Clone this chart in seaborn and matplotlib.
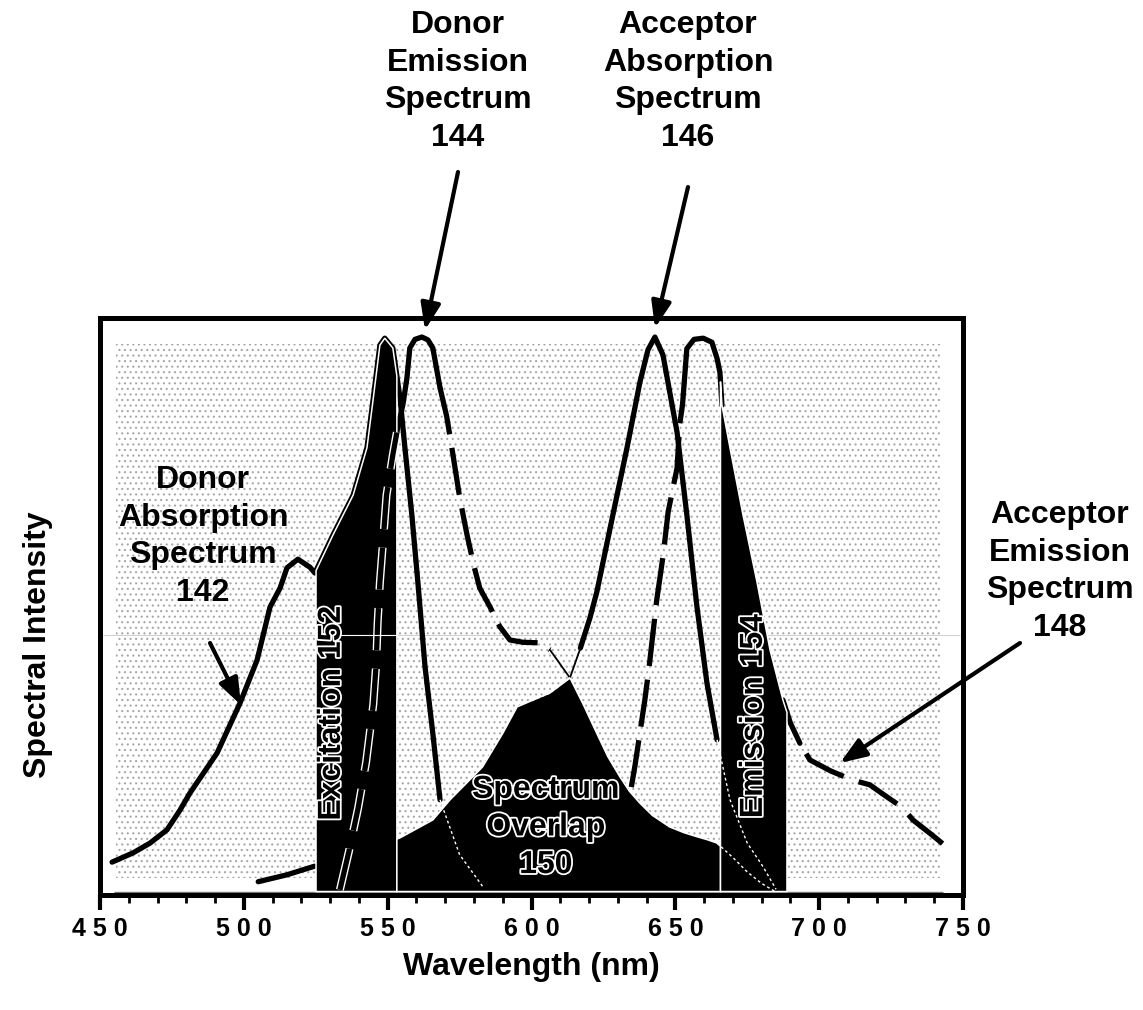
import numpy as np
import matplotlib
matplotlib.use("Agg")
import matplotlib.pyplot as plt
import matplotlib.patheffects as pe
from matplotlib.patches import Rectangle
import seaborn as sns

# ---------------- data ----------------
# Donor absorption spectrum 142 (solid)
DA_WL = [454.2, 461.5, 467.4, 473.3, 477.8, 481.3, 490.7, 498.7, 504.6, 509.1, 512.6, 515.0,
         518.8, 523.0, 524.7, 531.0, 538.0, 542.8, 545.0, 547.3, 549.0, 551.8, 554.3,
         556.0, 558.4, 560.5, 563.0, 565.7, 568.2, 575.0, 583.0]
DA_I = [5.7, 7.3, 9.0, 11.3, 14.7, 17.7, 24.6, 33.3, 40.7, 49.9, 53.2, 56.7,
        58.2, 56.8, 55.8, 62.4, 69.3, 77.5, 86.1, 95.3, 96.5, 94.8, 86.1,
        77.5, 65.9, 54.2, 39.5, 28.0, 16.5, 7.0, 1.5]

# Donor emission spectrum 144 (dashed)
DE_WL = [533.4, 536.5, 539.7, 542.5, 545.0, 546.0, 546.5, 547.3, 548.5, 549.6, 551.8,
         553.5, 555.3, 556.7, 557.7, 559.5, 561.9, 564.0, 565.7, 568.2, 570.5, 572.7,
         575.0, 577.6, 580.0, 582.0, 585.6, 589.0, 592.5, 597.0, 603.0, 606.4, 613.4,
         618.0, 622.7, 626.5, 630.7, 634.0, 637.7, 642.0, 648.0, 653.0, 657.5, 661.0,
         664.5, 670.0, 675.0, 680.0, 685.0]
DE_I = [0.9, 7.5, 15.0, 23.0, 33.0, 40.0, 47.0, 54.2, 62.0, 69.3, 76.3,
        81.0, 85.0, 89.6, 94.8, 96.3, 96.7, 96.2, 94.8, 87.9, 83.0, 76.3,
        69.0, 62.4, 57.0, 53.2, 49.9, 46.5, 44.2, 43.8, 43.7, 42.5, 37.6,
        33.0, 28.0, 24.0, 20.5, 18.0, 15.9, 13.8, 11.8, 10.8, 10.1, 9.6,
        9.0, 6.5, 4.0, 2.0, 0.5]

# Acceptor absorption spectrum 146 (solid)
AA_WL = [505.0, 515.0, 524.0, 554.3, 565.7, 571.7, 583.0, 590.0, 595.0, 603.0, 606.4,
         613.4, 616.8, 620.3, 622.7, 628.3, 633.2, 637.7, 640.5, 642.9, 645.7, 650.6,
         654.0, 657.5, 661.0, 664.5, 669.0, 675.0, 680.5, 685.0]
AA_I = [2.3, 3.5, 4.9, 9.9, 13.0, 16.5, 22.2, 28.0, 32.6, 34.3, 35.0,
        37.7, 42.5, 48.0, 52.5, 65.9, 77.5, 88.9, 94.5, 96.7, 93.6, 80.2,
        65.9, 50.0, 36.7, 26.9, 16.5, 9.0, 4.9, 1.0]

# Acceptor emission spectrum 148 (dashed)
AE_WL = [625.0, 630.0, 634.7, 636.0, 639.4, 641.0, 643.5, 645.8, 647.5, 650.6, 651.5,
         652.5, 654.0, 656.5, 659.7, 662.7, 664.5, 665.5, 666.2, 669.0, 673.5, 678.4,
         682.9, 687.4, 690.0, 693.3, 696.8, 704.0, 711.7, 717.6, 723.0, 729.1, 732.6,
         738.5, 744.4]
AE_I = [0.0, 9.0, 18.7, 22.5, 33.8, 40.0, 51.0, 59.0, 66.4, 74.0, 81.5,
        85.0, 94.7, 96.3, 96.5, 95.8, 93.0, 90.6, 84.9, 77.5, 65.9, 54.2,
        42.5, 33.8, 29.8, 26.3, 23.4, 21.5, 19.9, 19.1, 17.2, 15.1, 13.0,
        10.7, 8.3]

# Filter bands (nm)
EXCITATION_BAND = [525.1, 553.2]
EMISSION_BAND = [665.7, 688.8]

X_TICKS = [450, 500, 550, 600, 650, 700, 750]
X_TICK_LABELS = ["4 5 0", "5 0 0", "5 5 0", "6 0 0", "6 5 0", "7 0 0", "7 5 0"]

# ---------------- style ----------------
sns.set_theme(style="white")
plt.rcParams["font.family"] = ["Liberation Sans", "DejaVu Sans"]
plt.rcParams["text.color"] = "black"
plt.rcParams["axes.labelcolor"] = "black"
plt.rcParams["xtick.color"] = "black"
plt.rcParams["ytick.color"] = "black"
plt.rcParams["hatch.linewidth"] = 0.8

FS = 23
W, H = 1143, 1010
fig = plt.figure(figsize=(W / 100, H / 100), dpi=100)
fig.patch.set_facecolor("white")
ax = fig.add_axes([100 / W, 1 - 895 / H, 863 / W, 577 / H])
ax.set_facecolor("white")

LW = 3.8
BASE = 0.6


def seg(wl, val, lo, hi):
    wl = np.asarray(wl, float)
    val = np.asarray(val, float)
    m = (wl > lo) & (wl < hi)
    xs = np.concatenate([[lo], wl[m], [hi]])
    ys = np.concatenate([[np.interp(lo, wl, val)], val[m], [np.interp(hi, wl, val)]])
    return xs, ys


def draw(xs, ys, lw=LW, ls="-", color="black", z=4, outline=None):
    sns.lineplot(x=xs, y=ys, ax=ax, sort=False, estimator=None, color=color,
                 linewidth=lw, legend=False)
    ln = ax.lines[-1]
    ln.set_linestyle(ls)
    ln.set_zorder(z)
    ln.set_solid_capstyle("round")
    ln.set_solid_joinstyle("round")
    ln.set_dash_capstyle("butt")
    if outline is not None:
        ln.set_path_effects([pe.Stroke(linewidth=lw + outline, foreground="white"), pe.Normal()])
    return ln


DASH = (0, (9, 2.6))

# stippled background
ax.add_patch(Rectangle((455.5, 3.0), 286.5, 92.5, facecolor="white", edgecolor="#a8a8a8",
                       hatch="...", lw=0, zorder=0.5))
ax.hlines(BASE, 455, 743, color="#777777", lw=1.0, zorder=0.8)
ax.hlines(45, 451, 749, color="#d0d0d0", lw=0.8, zorder=0.8)

# ---- curves over the stippled background ----
draw(*seg(DA_WL, DA_I, 454.2, 568.2))                      # donor absorption
draw(*seg(AA_WL, AA_I, 505.0, 524.5))                      # acceptor absorption tail
draw(*seg(AA_WL, AA_I, 613.4, 617.5), lw=1.3)
draw(*seg(AA_WL, AA_I, 617.0, 664.5))
draw(*seg(DE_WL, DE_I, 553.2, 568.2))                      # donor emission peak
draw(*seg(DE_WL, DE_I, 568.2, 606.4), ls=DASH)
draw(*seg(DE_WL, DE_I, 606.4, 613.4), lw=1.3)
draw(*seg(AE_WL, AE_I, 634.7, 652.2), ls=DASH)             # acceptor emission
draw(*seg(AE_WL, AE_I, 652.2, 666.2))
draw(*seg(AE_WL, AE_I, 687.4, 693.3))
draw(*seg(AE_WL, AE_I, 695.5, 744.4), ls=(0, (8.5, 3.0)))

# ---- black filled regions ----
def fill_under(xs, ys):
    px = np.concatenate([[xs[0]], xs, [xs[-1]]])
    py = np.concatenate([[BASE], ys, [BASE]])
    ax.fill(px, py, facecolor="black", edgecolor="white", lw=1.1, zorder=5)


fill_under(*seg(DA_WL, DA_I, *EXCITATION_BAND))
ox = np.union1d(DE_WL, AA_WL)
ox = np.concatenate([[EXCITATION_BAND[1]], ox[(ox > EXCITATION_BAND[1]) & (ox < EMISSION_BAND[0])],
                     [EMISSION_BAND[0]]])
oy = np.minimum(np.interp(ox, DE_WL, DE_I), np.interp(ox, AA_WL, AA_I))
fill_under(ox, oy)
fill_under(*seg(AE_WL, AE_I, *EMISSION_BAND))

# ---- curves inside black regions (white outlined) ----
draw(*seg(DE_WL, DE_I, 533.4, 553.2), ls=(0, (8, 3.5)), z=6, outline=2.0)
draw(*seg(DA_WL, DA_I, 568.2, 583.0), lw=1.0, ls=(0, (2, 2)), color="white", z=6)
draw(*seg(AA_WL, AA_I, 600.0, 613.4), lw=1.0, ls=(0, (2, 2)), color="white", z=6)
draw(*seg(DE_WL, DE_I, 664.5, 685.0), lw=1.0, ls=(0, (2, 2)), color="white", z=6)
draw(*seg(AA_WL, AA_I, 664.5, 685.0), lw=1.0, ls=(0, (2, 2)), color="white", z=6)
ax.hlines(45, EXCITATION_BAND[0], EXCITATION_BAND[1], color="white", lw=0.8, zorder=6)

# ---- axes ----
ax.set_xlim(450, 750)
ax.set_ylim(0, 100)
ax.set_xticks(X_TICKS)
ax.set_xticklabels(X_TICK_LABELS, fontsize=18, fontweight="bold")
ax.set_xticks(np.arange(450, 751, 10), minor=True)
ax.set_yticks([])
ax.tick_params(axis="x", which="major", direction="out", length=11, width=3, color="black",
               pad=5, bottom=True)
ax.tick_params(axis="x", which="minor", direction="out", length=6, width=2, color="black",
               bottom=True)
for s in ax.spines.values():
    s.set_visible(True)
    s.set_color("black")
    s.set_linewidth(3.6)
    s.set_zorder(10)

ax.set_xlabel("")
ax.set_ylabel("")
fig.text(531 / W, 1 - 967 / H, "Wavelength (nm)", ha="center", va="center",
         fontsize=FS, fontweight="bold")
fig.text(38 / W, 1 - 645 / H, "Spectral Intensity", ha="center", va="center",
         rotation=90, fontsize=FS, fontweight="bold")

# ---- in-plot labels (outlined) ----
outl = [pe.Stroke(linewidth=2.6, foreground="white"), pe.Normal()]
ax.text(530.6, 31.5, "Excitation 152", rotation=90, ha="center", va="center",
        fontsize=FS, fontweight="bold", color="black", zorder=8, path_effects=outl)
ax.text(677.3, 31.0, "Emission 154", rotation=90, ha="center", va="center",
        fontsize=FS, fontweight="bold", color="black", zorder=8, path_effects=outl)
ax.text(605.0, 11.7, "Spectrum\nOverlap\n150", ha="center", va="center",
        fontsize=FS, fontweight="bold", color="black", zorder=8, path_effects=outl,
        linespacing=1.33)

# ---- callout labels with arrows ----
def fxy(px, py):
    return (px / W, 1 - py / H)


labels = [
    ("Donor\nEmission\nSpectrum\n144", (458, 10), (458, 172), (425, 330)),
    ("Acceptor\nAbsorption\nSpectrum\n146", (688, 10), (688, 187), (655, 328)),
    ("Donor\nAbsorption\nSpectrum\n142", (203, 465), (210, 643), (241, 705)),
    ("Acceptor\nEmission\nSpectrum\n148", (1060, 500), (1020, 643), (840, 763)),
]
for txt, tpos, a0, a1 in labels:
    fig.text(*fxy(*tpos), txt, ha="center", va="top", fontsize=FS, fontweight="bold",
             linespacing=1.33, zorder=12)
    ax.annotate("", xy=fxy(*a1), xycoords="figure fraction", xytext=fxy(*a0),
                textcoords="figure fraction",
                arrowprops=dict(arrowstyle="-|>,head_length=1.6,head_width=0.6",
                                mutation_scale=10, lw=3, color="black",
                                shrinkA=0, shrinkB=0),
                annotation_clip=False, zorder=12)

fig.savefig("out.png", dpi=100)
